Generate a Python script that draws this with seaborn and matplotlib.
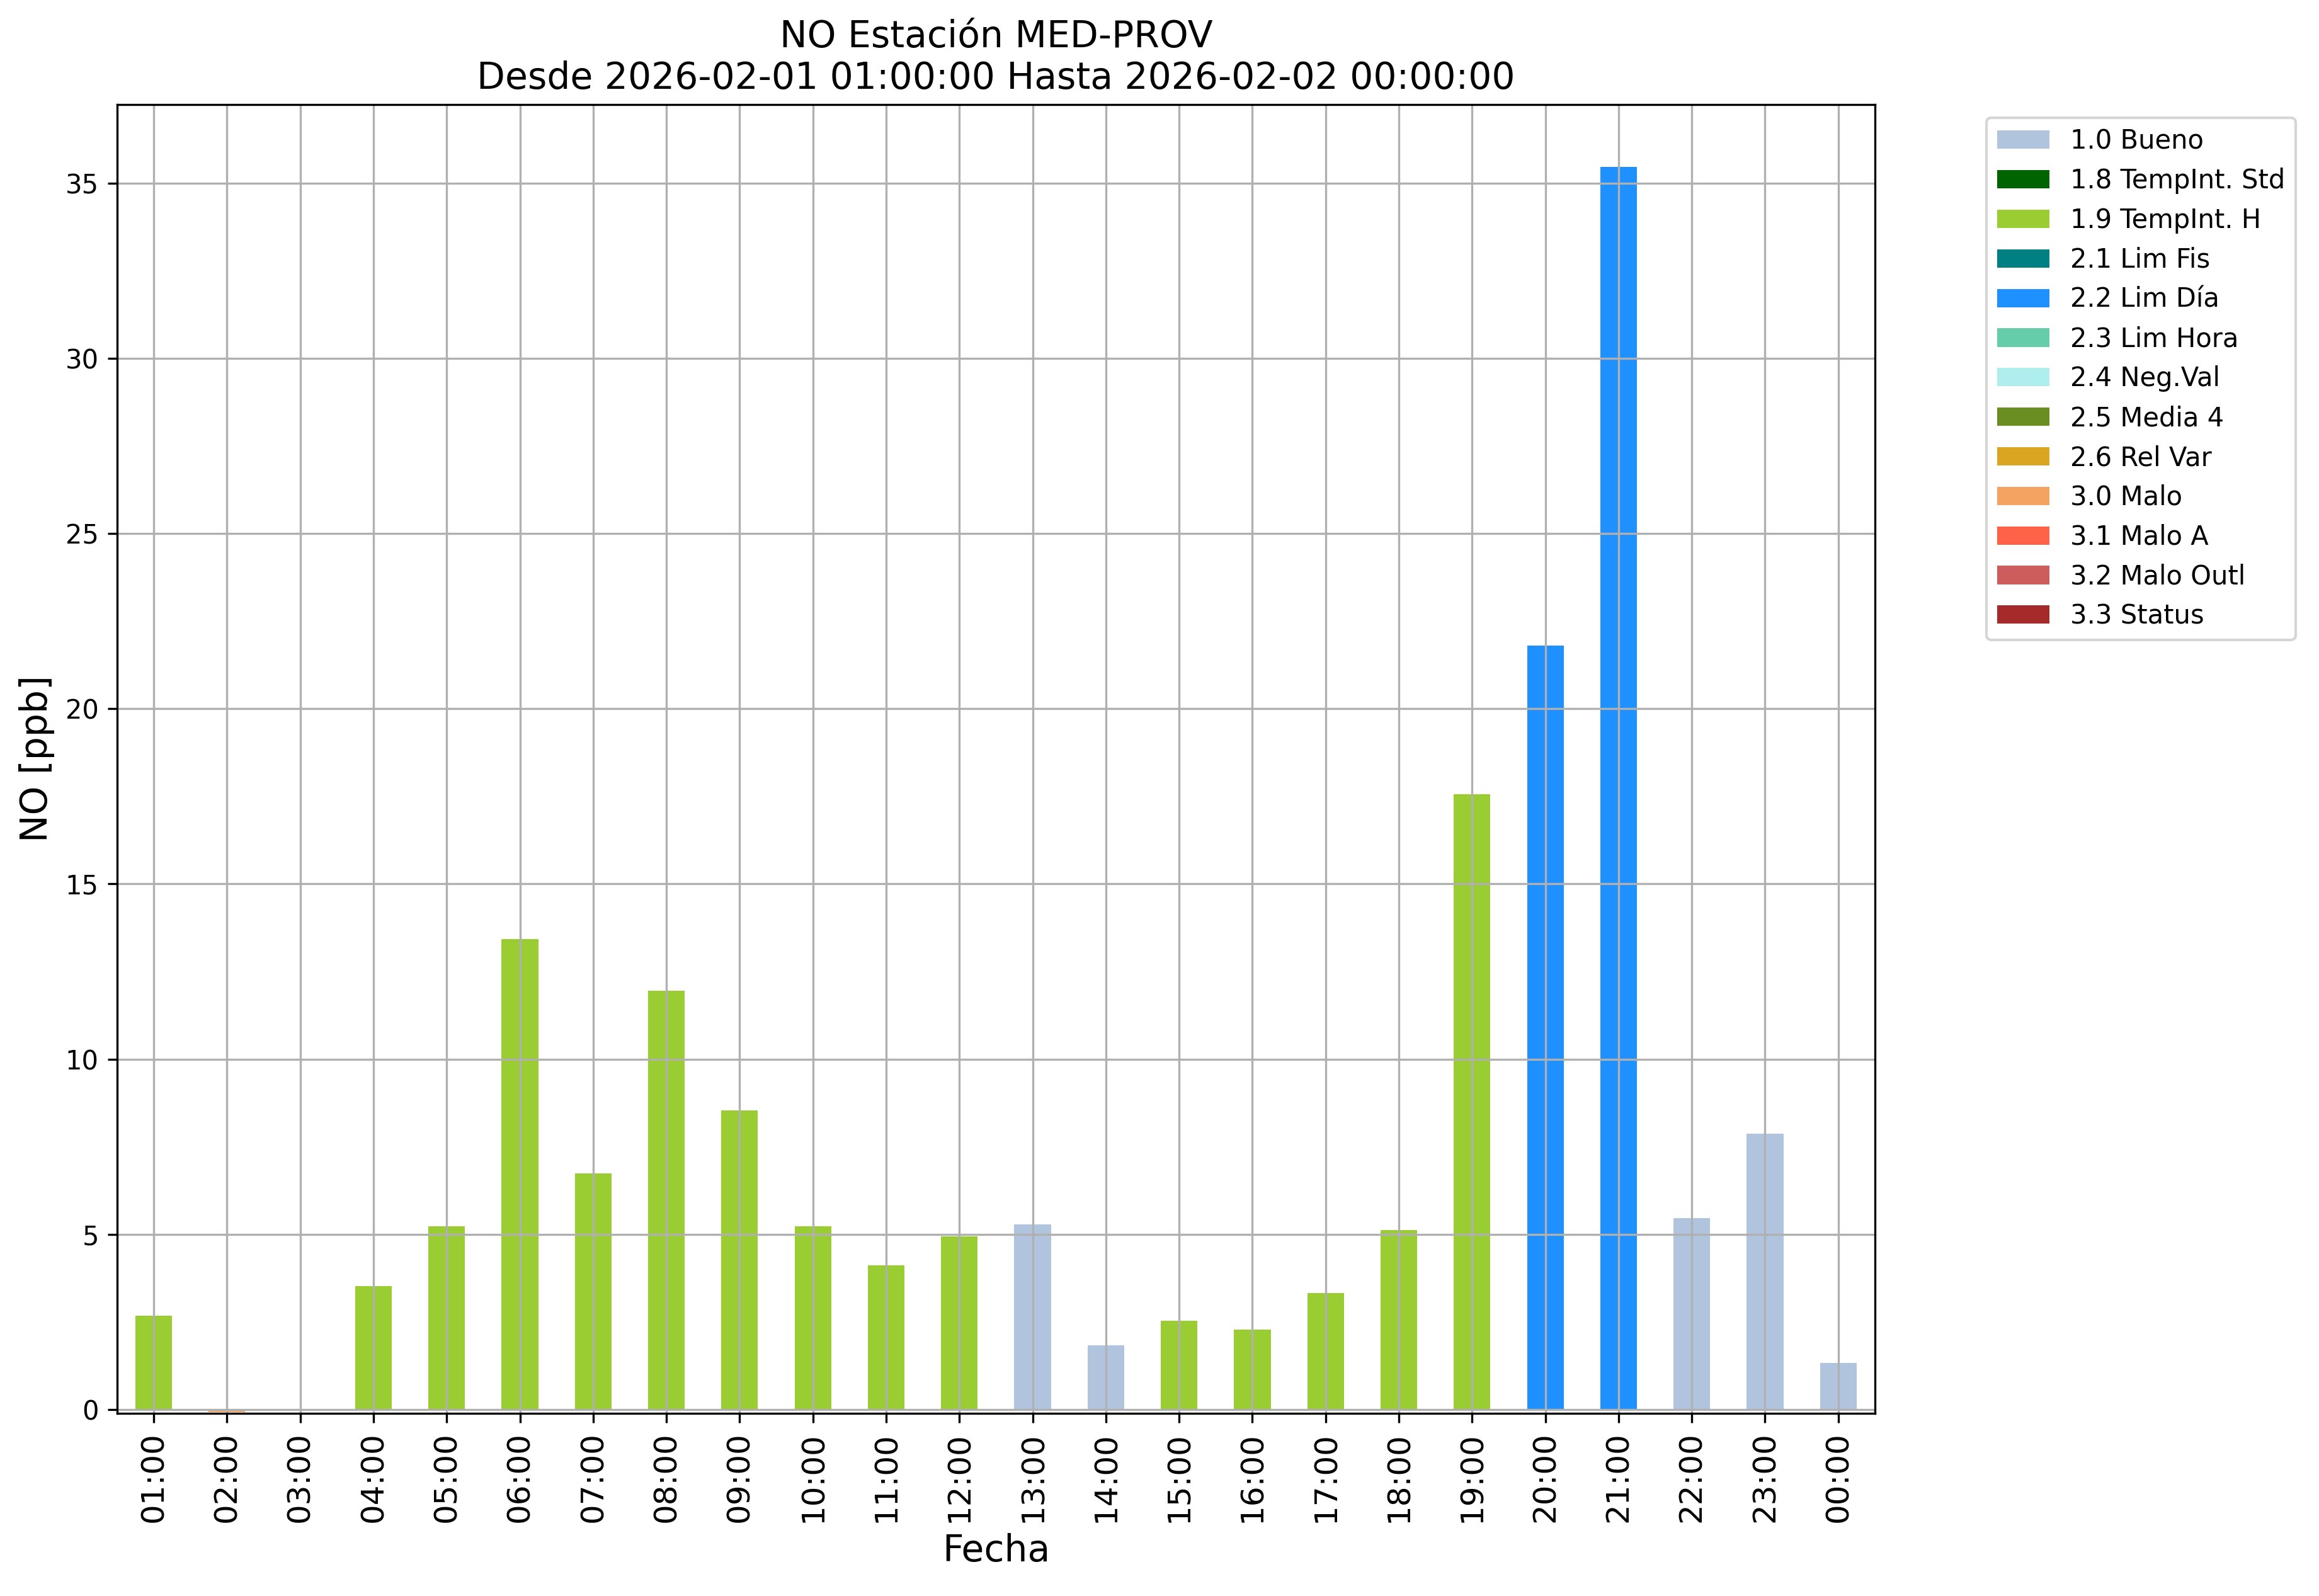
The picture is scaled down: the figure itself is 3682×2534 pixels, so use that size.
import matplotlib
matplotlib.use("Agg")
import matplotlib.pyplot as plt
from matplotlib.patches import Patch
import seaborn as sns
import pandas as pd
import numpy as np

# ---- data ----
hours = ["01:00", "02:00", "03:00", "04:00", "05:00", "06:00", "07:00", "08:00",
         "09:00", "10:00", "11:00", "12:00", "13:00", "14:00", "15:00", "16:00",
         "17:00", "18:00", "19:00", "20:00", "21:00", "22:00", "23:00", "00:00"]
values = [2.68, -0.08, np.nan, 3.53, 5.23, 13.42, 6.74, 11.96,
          8.54, 5.23, 4.11, 4.95, 5.28, 1.83, 2.53, 2.28,
          3.33, 5.13, 17.56, 21.80, 35.46, 5.47, 7.87, 1.33]
flags = ["1.9 TempInt. H", "3.0 Malo", None, "1.9 TempInt. H", "1.9 TempInt. H",
         "1.9 TempInt. H", "1.9 TempInt. H", "1.9 TempInt. H", "1.9 TempInt. H",
         "1.9 TempInt. H", "1.9 TempInt. H", "1.9 TempInt. H", "1.0 Bueno",
         "1.0 Bueno", "1.9 TempInt. H", "1.9 TempInt. H", "1.9 TempInt. H",
         "1.9 TempInt. H", "1.9 TempInt. H", "2.2 Lim Día", "2.2 Lim Día",
         "1.0 Bueno", "1.0 Bueno", "1.0 Bueno"]

flag_labels = ["1.0 Bueno", "1.8 TempInt. Std", "1.9 TempInt. H", "2.1 Lim Fis",
               "2.2 Lim Día", "2.3 Lim Hora", "2.4 Neg.Val", "2.5 Media 4",
               "2.6 Rel Var", "3.0 Malo", "3.1 Malo A", "3.2 Malo Outl", "3.3 Status"]
flag_colors = ["lightsteelblue", "darkgreen", "yellowgreen", "teal",
               "dodgerblue", "mediumaquamarine", "paleturquoise", "olivedrab",
               "goldenrod", "sandybrown", "tomato", "indianred", "brown"]

title = "NO Estación MED-PROV\nDesde 2026-02-01 01:00:00 Hasta 2026-02-02 00:00:00"

df = pd.DataFrame({"Fecha": hours, "NO": values, "flag": flags}).dropna()
palette = dict(zip(flag_labels, flag_colors))

fig, ax = plt.subplots(figsize=(3682 / 300, 2534 / 300), dpi=300)
fig.subplots_adjust(left=0.0505, right=0.8085, top=0.9345, bottom=0.1144)

sns.barplot(data=df, x="Fecha", y="NO", hue="flag", order=hours,
            hue_order=flag_labels, palette=palette, dodge=False, width=0.5,
            saturation=1, legend=False, ax=ax, errorbar=None)

ax.set_xlim(-0.5, len(hours) - 0.5)
ax.set_ylim(-0.11, 37.24)
ax.grid(True, color="#b0b0b0", linewidth=0.8)
ax.set_axisbelow("line")
ax.tick_params(axis="x", labelsize=12, labelrotation=90)
ax.tick_params(axis="y", labelsize=10)
ax.set_xlabel("Fecha", fontsize=14)
ax.set_ylabel("NO [ppb]", fontsize=14)
ax.set_title(title, fontsize=14)

handles = [Patch(facecolor=c, label=l) for l, c in zip(flag_labels, flag_colors)]
ax.legend(handles=handles, loc="upper left", bbox_to_anchor=(1.056, 1), fontsize=10)

fig.savefig("out.png", dpi=300)
